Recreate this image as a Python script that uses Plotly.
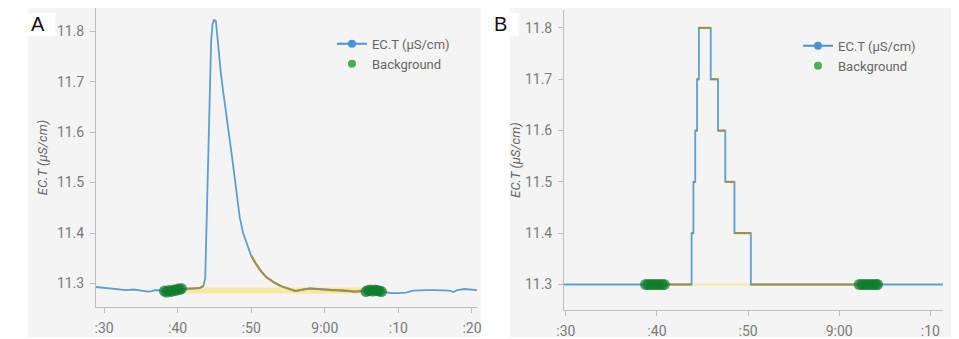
import plotly.graph_objects as go

# ---------------- Panel A data (minutes after 8:00) ----------------
A_time = [28.9, 29.5, 30, 31, 32, 33, 34, 35, 36, 36.5, 37, 38, 39, 40, 41, 42, 43, 43.5,
          43.75, 43.9, 44.15, 44.4, 44.55, 44.75, 44.95, 45.2, 45.4, 45.6, 45.85, 46.1, 46.4,
          46.75, 47.0, 47.4, 47.75, 48.05, 48.45, 48.9, 49.4, 50.0, 50.6, 51.3, 52.0, 53.0,
          54, 55, 56, 57, 58, 59, 60, 61, 62, 63, 64, 65, 66, 67, 68, 69, 70, 71, 72, 73,
          74, 75, 76, 77, 77.5, 78, 79, 80, 80.7]
A_val = [11.293, 11.292, 11.291, 11.289, 11.288, 11.287, 11.288, 11.286, 11.284, 11.285,
         11.287, 11.286, 11.287, 11.289, 11.290, 11.290, 11.291, 11.295,
         11.31, 11.40, 11.55, 11.70, 11.78, 11.815, 11.822, 11.82, 11.785, 11.765, 11.72,
         11.69, 11.66, 11.62, 11.60, 11.55, 11.51, 11.48, 11.43, 11.40, 11.38, 11.355,
         11.34, 11.325, 11.313, 11.303,
         11.295, 11.290, 11.285, 11.288, 11.290, 11.289, 11.288, 11.287, 11.287, 11.286,
         11.284, 11.285, 11.287, 11.286, 11.284, 11.281, 11.281, 11.282, 11.286, 11.287,
         11.287, 11.287, 11.287, 11.286, 11.283, 11.287, 11.289, 11.288, 11.287]
A_bg1_time = [38.2, 38.5, 38.8, 39.1, 39.4, 39.7, 40.0, 40.25, 40.5]
A_bg1_val = [11.285, 11.283, 11.286, 11.284, 11.287, 11.286, 11.289, 11.288, 11.290]
A_bg2_time = [65.6, 65.9, 66.2, 66.5, 66.8, 67.1, 67.4, 67.7]
A_bg2_val = [11.284, 11.286, 11.287, 11.285, 11.287, 11.286, 11.285, 11.284]

# ---------------- Panel B data ----------------
B_time = [29.8, 43.8, 44.0, 44.2, 44.4, 44.6, 45.9, 46.7, 47.5, 48.5, 50.3, 71.4]
B_val = [11.3, 11.4, 11.5, 11.6, 11.7, 11.8, 11.7, 11.6, 11.5, 11.4, 11.3, 11.3]
B_bg1_time = [38.75, 39.05, 39.35, 39.65, 39.95, 40.25, 40.55, 40.8]
B_bg1_val = [11.3, 11.3, 11.3, 11.3, 11.3, 11.3, 11.3, 11.3]
B_bg2_time = [62.2, 62.5, 62.8, 63.1, 63.4, 63.7, 64.0, 64.2]
B_bg2_val = [11.3, 11.3, 11.3, 11.3, 11.3, 11.3, 11.3, 11.3]

x_tickvals = [30, 40, 50, 60, 70, 80]
x_ticktext = [":30", ":40", ":50", "9:00", ":10", ":20"]
y_tickvals = [11.3, 11.4, 11.5, 11.6, 11.7, 11.8]
y_ticktext = ["11.3", "11.4", "11.5", "11.6", "11.7", "11.8"]

BLUE = "#5a9fd6"
OLIVE = "rgba(175,140,35,0.8)"
GREEN = "rgba(15,125,45,0.72)"
YELLOW = "rgba(250,225,120,0.65)"

# page body has an 8px margin: lay out in window pixels shifted by 8
OFF = 8
W, H = 959 - OFF, 339 - OFF


def px(x):
    return (x - OFF) / W


def py(y):
    return 1 - (y - OFF) / H


fig = go.Figure()


def mean(v):
    return sum(v) / len(v)


def add_panel(xa, ya, leg, t, v, bg1t, bg1v, bg2t, bg2v, band_w, step):
    t0, t1 = bg1t[-1], bg2t[0]
    base = (mean(bg1v) + mean(bg2v)) / 2
    fig.add_trace(go.Scatter(x=[t0, t1], y=[base, base], mode="lines",
                             line=dict(color=YELLOW, width=band_w), showlegend=False,
                             hoverinfo="skip", xaxis=xa, yaxis=ya))
    fig.add_trace(go.Scatter(x=t, y=v, mode="lines",
                             line=dict(color=BLUE, width=1.8, shape="hv" if step else "linear"),
                             showlegend=False, xaxis=xa, yaxis=ya))
    ox, oy = [], []
    if step:
        for i in range(len(t) - 1):
            a, b = max(t[i], t0), min(t[i + 1], t1)
            if b > a:
                ox += [a, b, None]
                oy += [v[i], v[i], None]
    else:
        for i in range(len(t) - 1):
            a, b = t[i], t[i + 1]
            if a >= t0 and b <= t1 + 1e-9:
                slope = abs((v[i + 1] - v[i]) / (b - a))
                if slope < 0.03:
                    ox += [a, b, None]
                    oy += [v[i], v[i + 1], None]
    fig.add_trace(go.Scatter(x=ox, y=oy, mode="lines",
                             line=dict(color=OLIVE, width=2.2), showlegend=False,
                             hoverinfo="skip", xaxis=xa, yaxis=ya))
    fig.add_trace(go.Scatter(x=bg1t + bg2t, y=bg1v + bg2v, mode="markers", name="Background",
                             marker=dict(color=GREEN, size=11, line=dict(width=0)),
                             showlegend=False, xaxis=xa, yaxis=ya))
    # legend entries
    fig.add_trace(go.Scatter(x=[None], y=[None], mode="lines+markers", name="EC.T (µS/cm)",
                             line=dict(color="#4a92d2", width=2),
                             marker=dict(color="#4a92d2", size=8),
                             legend=leg, xaxis=xa, yaxis=ya))
    fig.add_trace(go.Scatter(x=[None], y=[None], mode="markers", name="Background",
                             marker=dict(color="#4caf50", size=8),
                             legend=leg, xaxis=xa, yaxis=ya))


add_panel("x", "y", "legend", A_time, A_val, A_bg1_time, A_bg1_val, A_bg2_time, A_bg2_val, 6, False)
add_panel("x2", "y2", "legend2", B_time, B_val, B_bg1_time, B_bg1_val, B_bg2_time, B_bg2_val, 2, True)

axis_common = dict(showline=True, linecolor="#bdbdbd", linewidth=1, ticks="outside",
                   ticklen=5, tickcolor="#bdbdbd", ticklabelstandoff=3,
                   tickfont=dict(size=14, color="#7a7a7a", family="Roboto"),
                   showgrid=False, zeroline=False)


def ytitle(standoff):
    return dict(text="EC.T (µS/cm)", font=dict(size=13, color="#666", family="Roboto",
                                               style="italic"), standoff=standoff)


legfont = dict(size=13, color="#666", family="Roboto")

fig.update_layout(
    width=W, height=H, margin=dict(l=0, r=0, t=0, b=0),
    paper_bgcolor="white", plot_bgcolor="#f9f9f9",
    font=dict(family="Roboto", color="#666"),
    xaxis=dict(domain=[px(89), px(475)], range=[28.9, 80.7], tickvals=x_tickvals,
               ticktext=x_ticktext, anchor="y", **axis_common),
    yaxis=dict(domain=[py(309), py(8)], range=[11.253, 11.846], tickvals=y_tickvals,
               ticktext=y_ticktext, anchor="x", title=ytitle(6), **axis_common),
    xaxis2=dict(domain=[px(563), px(947)], range=[29.8, 71.4], tickvals=x_tickvals,
                ticktext=x_ticktext, anchor="y2", **axis_common),
    yaxis2=dict(domain=[py(312), py(10)], range=[11.25, 11.835], tickvals=y_tickvals,
                ticktext=y_ticktext, anchor="x2", title=ytitle(1), **axis_common),
    legend=dict(x=px(328), y=py(29), xanchor="left", yanchor="top",
                bgcolor="rgba(0,0,0,0)", font=legfont),
    legend2=dict(x=px(800), y=py(31), xanchor="left", yanchor="top",
                 bgcolor="rgba(0,0,0,0)", font=legfont),
    shapes=[
        dict(type="rect", xref="paper", yref="paper", x0=px(20), x1=px(479), y0=0,
             y1=py(3), fillcolor="#f4f4f4", line=dict(width=0), layer="below"),
        dict(type="rect", xref="paper", yref="paper", x0=px(508), x1=px(957), y0=0,
             y1=py(3), fillcolor="#f4f4f4", line=dict(width=0), layer="below"),
        dict(type="rect", xref="paper", yref="paper", x0=px(12), x1=px(48), y0=py(36),
             y1=py(13), fillcolor="white", line=dict(width=0), layer="below"),
        dict(type="rect", xref="paper", yref="paper", x0=px(481), x1=px(517), y0=py(36),
             y1=py(13), fillcolor="white", line=dict(width=0), layer="below"),
    ],
    annotations=[
        dict(text="A", xref="paper", yref="paper", x=px(30), y=py(24), xanchor="center",
             yanchor="middle", showarrow=False,
             font=dict(size=20, color="#111", family="Liberation Sans")),
        dict(text="B", xref="paper", yref="paper", x=px(499), y=py(24), xanchor="center",
             yanchor="middle", showarrow=False,
             font=dict(size=20, color="#111", family="Liberation Sans")),
    ],
)

fig.write_html("out.html")
